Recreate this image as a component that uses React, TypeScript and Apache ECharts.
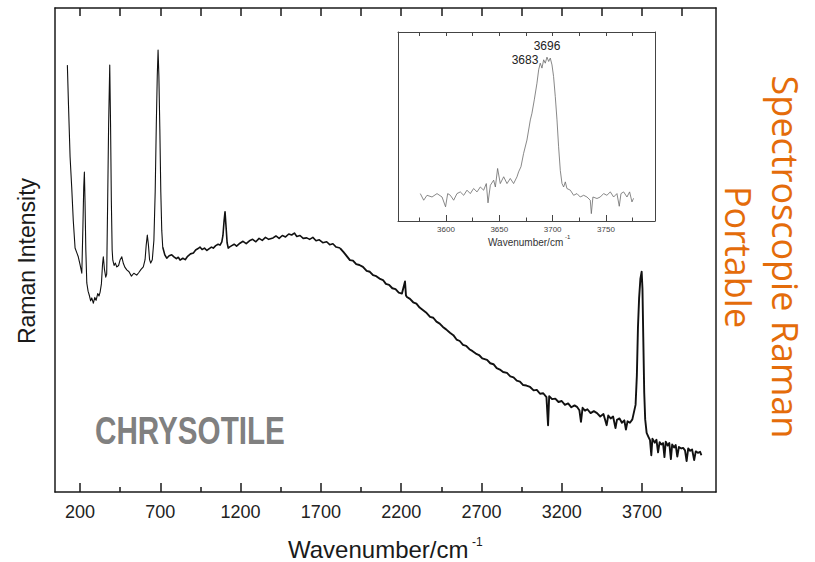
import React, { useEffect, useRef } from "react";
import * as echarts from "echarts";

// ---- main spectrum (wavenumber cm-1, relative intensity 0..100) ----
const mainLow: [number, number][] = [
  [121, 88.2], [128, 80], [138, 69.2], [148, 63], [158, 56], [169, 50.4], [179, 49.5], [189, 48.6],
  [200, 47], [211, 45.2], [218, 55], [223, 63], [227, 66.1], [231, 60], [236, 50], [242, 43.2],
  [250, 41.5], [258, 40.6], [266, 39.5], [273, 40.1], [283, 39.0], [292, 40.2], [300, 39.6],
  [310, 41], [318, 40.5], [325, 41.3], [333, 43], [340, 47], [345, 48.6], [352, 46], [360, 44.4],
  [366, 45], [372, 60], [378, 76], [385, 88.2], [390, 76], [395, 60], [400, 50], [404, 47.9],
  [412, 46.8], [420, 47.3], [429, 46.5], [440, 46.8], [450, 48], [460, 48.6], [470, 47.2],
  [480, 46.4], [491, 45.9], [505, 45.5], [520, 44.6], [535, 45.2], [553, 44.8], [565, 45.3],
  [580, 46], [594, 46.5], [605, 48], [612, 51], [619, 53.1], [626, 51], [633, 48], [640, 47.3],
  [650, 48], [660, 52], [668, 62], [675, 76], [681, 86], [686, 91.3], [691, 86], [697, 75],
  [703, 62], [709, 54], [715, 50.6],
];
const mainMid: [number, number][] = [
  [715, 50.6], [728, 49], [740, 48.3], [755, 48.8], [771, 49], [785, 48.6], [800, 48.2], [812, 48.5], [823, 47.9],
  [840, 48.3], [855, 48], [870, 48.7], [888, 49.2], [906, 49.4], [920, 50], [935, 50.3], [947, 50.6],
  [960, 50.1], [975, 50.4], [990, 49.9], [1005, 50.3], [1018, 50.6], [1030, 50.4], [1045, 50.9],
  [1060, 51.2], [1072, 51], [1083, 51.7], [1090, 53], [1097, 56], [1103, 57.9], [1109, 55],
  [1116, 51.5], [1123, 50.4], [1130, 50.6], [1145, 50.9], [1160, 51.2], [1175, 50.8], [1196, 51.4],
  [1215, 51.8], [1235, 51.3], [1255, 51.9], [1275, 52.2], [1295, 51.7], [1315, 52.4], [1335, 52],
  [1355, 52.6], [1375, 52.2], [1402, 52.5], [1420, 52.9], [1440, 52.4], [1460, 53], [1480, 52.7],
  [1500, 53.3], [1518, 53.1], [1535, 53.5], [1550, 52.8], [1570, 53], [1590, 52.4], [1612, 52.5],
  [1630, 52.2], [1650, 52.6], [1670, 51.9], [1690, 52.1], [1712, 51.5], [1736, 51.7], [1755, 51.1],
  [1775, 51.3], [1795, 50.6], [1819, 50.4],
];
const mainHigh: [number, number][] = [
  [1819, 50.4], [1840, 49.6], [1860, 48.8], [1881, 47.9], [1900, 47.8], [1920, 47.1], [1940, 46.9], [1962, 46.5],
  [1985, 45.7], [2005, 45.5], [2025, 44.8], [2045, 44.6], [2065, 44.1], [2087, 43.8], [2105, 43],
  [2125, 42.8], [2145, 42.1], [2165, 41.9], [2185, 41.2], [2205, 41], [2224, 43.5], [2230, 40.6],
  [2236, 40.3], [2255, 39.9], [2275, 39.2], [2295, 38.9], [2315, 38.1], [2335, 37.6], [2355, 37.1],
  [2380, 36.2], [2400, 36], [2420, 35.2], [2440, 34.8], [2460, 34.1], [2480, 33.6], [2504, 32.9],
  [2525, 32.4], [2545, 31.5], [2565, 31.2], [2585, 30.4], [2605, 30.2], [2625, 29.5], [2645, 29.1],
  [2665, 28.6], [2685, 28.3], [2705, 27.6], [2735, 27.3], [2755, 26.6], [2775, 26.4], [2795, 25.6],
  [2815, 25.3], [2835, 24.8], [2859, 24.6], [2880, 23.9], [2900, 23.7], [2920, 23], [2940, 22.8],
  [2960, 22.1], [2980, 22], [3003, 21.7], [3025, 21], [3045, 21.1], [3065, 20.3], [3085, 20.4],
  [3105, 19.6], [3115, 13.8], [3122, 19.8], [3140, 19.2], [3160, 19.3], [3180, 18.6], [3200, 18.8],
  [3220, 18], [3240, 18.3], [3260, 17.5], [3280, 17.9], [3295, 17.6], [3310, 16.9], [3320, 14.5],
  [3330, 17.4], [3345, 16.8], [3360, 17.1], [3380, 16.3], [3400, 16.7], [3420, 16.3], [3440, 15.6],
  [3460, 16.1], [3480, 13.8], [3490, 15.8], [3505, 15.2], [3520, 15.6], [3535, 13.2], [3544, 14.9],
  [3560, 15.2], [3575, 14.3], [3590, 14.8], [3600, 12.9], [3610, 14.6], [3625, 14.3], [3640, 15],
  [3650, 16.5], [3660, 18], [3668, 24], [3675, 34.1], [3682, 40], [3690, 44], [3698, 45.5],
  [3703, 42], [3708, 32], [3714, 20.5], [3720, 15], [3729, 12.2], [3740, 11.4], [3750, 10.7],
  [3758, 7.6], [3765, 11], [3780, 10.2], [3790, 10.8], [3800, 8.2], [3810, 10.3], [3820, 9.8],
  [3831, 10.1], [3840, 7.2], [3848, 10.4], [3860, 9.6], [3870, 10.1], [3880, 6.8], [3888, 9.8],
  [3900, 9.2], [3910, 9.7], [3920, 7.3], [3930, 9.3], [3945, 9], [3956, 9.1], [3968, 8.6],
  [3978, 6.4], [3988, 9], [4000, 8.5], [4012, 8.8], [4025, 6.6], [4035, 8.4], [4048, 8.1],
  [4062, 8.3], [4070, 7.6],
];

// ---- inset: OH stretching region ----
const insetSpectrum: [number, number][] = [
  [3575.9, 14.5], [3579.1, 11.0], [3582.2, 13.6], [3586.9, 12.7], [3591.6, 14.5], [3596.3, 12.7],
  [3599.6, 7.5], [3601.6, 14.5], [3604.1, 13.6], [3607.2, 11.0], [3610.3, 14.5], [3613.4, 15.4],
  [3616.6, 13.6], [3619.7, 16.3], [3622.8, 14.5], [3625.9, 17.2], [3629.1, 15.4], [3632.2, 18.0],
  [3635.3, 16.3], [3637.8, 19.8], [3639.4, 9.6], [3641.6, 18.9], [3644.7, 21.6], [3646.3, 18.0],
  [3648.4, 27.8], [3650.9, 19.8], [3654.1, 23.4], [3657.2, 19.8], [3660.3, 22.5], [3663.4, 19.8],
  [3666.6, 23.4], [3668.1, 26.0], [3670.3, 28.7], [3672.8, 35.8], [3675.9, 42.8], [3679.1, 53.5],
  [3680.6, 57.0], [3682.8, 64.1], [3685.3, 72.9], [3686.9, 80.0], [3688.4, 83.5], [3690.0, 80.9],
  [3691.6, 85.3], [3693.1, 83.5], [3694.7, 86.7], [3696.3, 84.4], [3697.8, 86.2], [3699.4, 82.6],
  [3700.9, 76.4], [3702.5, 65.8], [3704.1, 53.5], [3705.6, 39.3], [3707.2, 26.7], [3708.8, 19.8],
  [3710.3, 18.0], [3711.9, 20.7], [3713.4, 17.2], [3716.6, 16.3], [3719.7, 13.6], [3722.8, 14.5],
  [3725.9, 12.7], [3729.1, 13.6], [3732.2, 12.7], [3735.3, 11.0], [3736.3, 3.9], [3737.8, 12.7],
  [3741.6, 11.9], [3744.7, 12.7], [3747.8, 14.5], [3750.9, 13.6], [3754.1, 15.4], [3757.2, 12.7],
  [3760.3, 14.5], [3762.5, 7.8], [3764.1, 14.5], [3766.6, 15.4], [3769.7, 12.7], [3772.2, 15.4],
  [3774.4, 10.1], [3775.9, 12.0],
];

// ---- tick values ----
const mainMajorTicks = [200, 700, 1200, 1700, 2200, 2700, 3200, 3700];
const mainMinorTicks = [450, 950, 1450, 1950, 2450, 2950, 3450, 3950];
const mainTopTicks = [200, 450, 700, 950, 1200, 1450, 1700, 1950, 2200, 2450, 2700, 2950, 3200, 3450, 3700, 3950];
const insetMajorTicks = [3600, 3650, 3700, 3750];
const insetMinorTicks = [3575, 3625, 3675, 3725, 3775];
const insetTopTicks = [3575, 3600, 3625, 3650, 3675, 3700, 3725, 3750, 3775];

const MAIN_MIN = 44;
const MAIN_MAX = 4161;
const INSET_MIN = 3555;
const INSET_MAX = 3796;

const FONT = '"Liberation Sans", Arial, Helvetica, sans-serif';

function xAx(
  gridIndex: number,
  position: "top" | "bottom",
  min: number,
  max: number,
  ticks: number[],
  tickLen: number,
  showLine: boolean,
  lineColor: string,
  lineWidth: number,
  labels?: { values: number[]; size: number; margin: number; color: string }
) {
  return {
    type: "value",
    gridIndex,
    position,
    min,
    max,
    axisLine: { show: showLine, onZero: false, lineStyle: { color: lineColor, width: lineWidth } },
    axisTick: {
      show: true,
      inside: true,
      length: tickLen,
      customValues: ticks,
      lineStyle: { color: lineColor, width: lineWidth },
    },
    axisLabel: labels
      ? {
          show: true,
          customValues: labels.values,
          fontSize: labels.size,
          margin: labels.margin,
          color: labels.color,
          fontFamily: FONT,
          formatter: (v: number) => String(v),
        }
      : { show: false },
    splitLine: { show: false },
    minorTick: { show: false },
  };
}

function yAx(gridIndex: number, position: "left" | "right", color: string, width: number) {
  return {
    type: "value",
    gridIndex,
    position,
    min: 0,
    max: 100,
    axisLine: { show: true, onZero: false, lineStyle: { color, width } },
    axisTick: { show: false },
    axisLabel: { show: false },
    splitLine: { show: false },
  };
}

function txt(
  x: number,
  y: number,
  text: string,
  fontSize: number,
  fill: string,
  align: string,
  extra: any = {},
  styleExtra: any = {}
) {
  return {
    type: "text",
    x,
    y,
    ...extra,
    style: {
      text,
      fontSize,
      fontFamily: FONT,
      fill,
      align,
      verticalAlign: "middle",
      textAlign: align,
      textVerticalAlign: "middle",
      ...styleExtra,
    },
  };
}

export default function App() {
  const ref = useRef<HTMLDivElement>(null);

  useEffect(() => {
    if (!ref.current) return;
    const chart = echarts.init(ref.current, null, { renderer: "svg" });

    const lineSeries = (data: [number, number][], xi: number, yi: number, color: string, width: number) => ({
      type: "line",
      xAxisIndex: xi,
      yAxisIndex: yi,
      data,
      showSymbol: false,
      symbol: "none",
      lineStyle: { color, width, join: "round" },
      silent: true,
    });

    const option: any = {
      animation: false,
      backgroundColor: "#ffffff",
      grid: [
        { left: 55, top: 8, width: 661, height: 484, outerBoundsMode: "none", containLabel: false },
        {
          left: 398,
          top: 32,
          width: 257,
          height: 189,
          show: true,
          backgroundColor: "#ffffff",
          borderWidth: 0,
          outerBoundsMode: "none",
          containLabel: false,
        },
      ],
      xAxis: [
        xAx(0, "bottom", MAIN_MIN, MAIN_MAX, mainMajorTicks, 9, true, "#1a1a1a", 1.5, {
          values: mainMajorTicks,
          size: 18,
          margin: 11,
          color: "#222222",
        }),
        xAx(0, "bottom", MAIN_MIN, MAIN_MAX, mainMinorTicks, 5, false, "#1a1a1a", 1.5),
        xAx(0, "top", MAIN_MIN, MAIN_MAX, mainTopTicks, 8, true, "#1a1a1a", 1.5),
        xAx(1, "bottom", INSET_MIN, INSET_MAX, insetMajorTicks, 6, true, "#444444", 1, {
          values: insetMajorTicks,
          size: 8,
          margin: 4,
          color: "#444444",
        }),
        xAx(1, "bottom", INSET_MIN, INSET_MAX, insetMinorTicks, 3.5, false, "#444444", 1),
        xAx(1, "top", INSET_MIN, INSET_MAX, insetTopTicks, 4, true, "#444444", 1),
      ],
      yAxis: [
        yAx(0, "left", "#1a1a1a", 1.5),
        yAx(0, "right", "#1a1a1a", 1.5),
        yAx(1, "left", "#444444", 1),
        yAx(1, "right", "#444444", 1),
      ],
      series: [
        lineSeries(mainLow, 0, 0, "#111111", 1.1),
        lineSeries(mainMid, 0, 0, "#111111", 1.6),
        lineSeries(mainHigh, 0, 0, "#111111", 1.9),
        lineSeries(insetSpectrum, 3, 2, "#6a6a6a", 0.8),
      ],
      graphic: [
        txt(95, 431, "CHRYSOTILE", 38, "#808080", "left", { scaleX: 0.78 }, { fontWeight: "bold" }),
        txt(27, 261, "Raman Intensity", 23, "#1a1a1a", "center", { rotation: Math.PI / 2 }),
        txt(288, 549, "Wavenumber/cm", 24, "#1a1a1a", "left"),
        txt(472, 542, "-1", 12, "#1a1a1a", "left"),
        txt(
          762,
          257,
          "Spectroscopie Raman\nPortable",
          36,
          "#E46C0A",
          "center",
          { rotation: -Math.PI / 2 },
          { lineHeight: 47, fontFamily: '"Open Sans", "Noto Sans", sans-serif' }
        ),
        txt(547, 46, "3696", 12, "#222222", "center"),
        txt(525, 60, "3683", 12, "#222222", "center"),
        txt(488, 242, "Wavenumber/cm", 10, "#333333", "left"),
        txt(565, 237, "-1", 6, "#333333", "left"),
      ],
    };

    chart.setOption(option);
    return () => chart.dispose();
  }, []);

  return (
    <div
      ref={ref}
      style={{ position: "absolute", left: 0, top: 0, width: 815, height: 562 }}
    />
  );
}
